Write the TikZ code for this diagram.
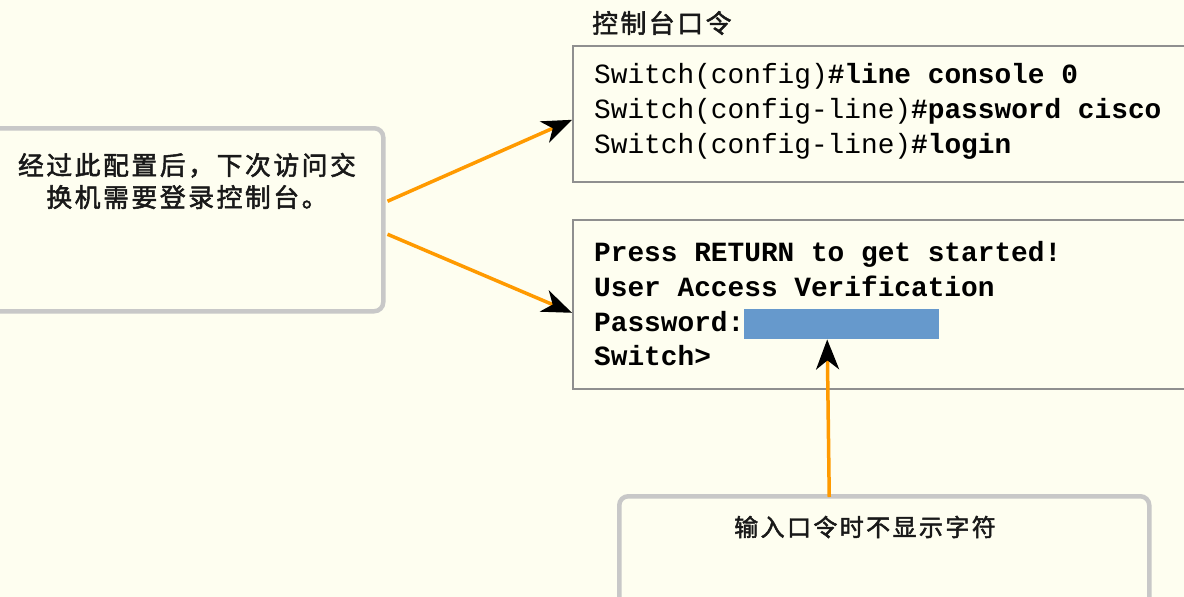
\documentclass[tikz,border=0pt]{standalone}
\usepackage{fontspec}
\setmonofont{Liberation Mono}
\newfontfamily\cjk[LetterSpace=10,FakeBold=2]{Noto Sans CJK SC}
\usetikzlibrary{arrows.meta}

\definecolor{paper}{HTML}{FEFEF0}
\definecolor{frame}{HTML}{C8C8C8}
\definecolor{termframe}{HTML}{8F8F8F}
\definecolor{pointer}{HTML}{FF9A00}
\definecolor{hidden}{HTML}{6699CC}

\tikzset{
  notebox/.style={draw=frame, line width=4.5pt, rounded corners=9pt, fill=paper,
    inner sep=0pt, anchor=north west},
  termbox/.style={draw=termframe, line width=1.6pt, fill=paper, inner sep=0pt,
    anchor=north west},
  codeline/.style={anchor=base west, inner sep=0pt,
    font=\fontsize{27.8}{30}\ttfamily},
  cjktext/.style={inner sep=0pt, font=\fontsize{25.8}{32}\cjk, text=black!90},
  callout/.style={draw=pointer, line width=3.5pt,
    -{Stealth[length=30pt, width=23pt, inset=9pt, color=black]}},
}

\begin{document}
\begin{tikzpicture}[x=1pt, y=-1pt]
  \useasboundingbox (0,0) rectangle (1184,597);
  \fill[paper] (0,0) rectangle (1184,597);

  % explanation on the left (its left edge runs past the page)
  \node[notebox, minimum width=405pt, minimum height=183pt] (note) at (-24,126) {};
  \node[cjktext, align=center] (notetext) at (187,181)
    {经过此配置后，下次访问交\\换机需要登录控制台。};

  % console configuration commands
  \node[cjktext, anchor=west] (title) at (592,23) {控制台口令};
  \node[termbox, minimum width=630pt, minimum height=136pt] (cfg) at (572,45) {};
  \node[codeline] (c1) at (594,83)  {Switch(config)\textbf{\#line console 0}};
  \node[codeline] (c2) at (594,118) {Switch(config-line)\textbf{\#password cisco}};
  \node[codeline] (c3) at (594,153) {Switch(config-line)\textbf{\#login}};

  % login prompt shown afterwards
  \node[termbox, minimum width=630pt, minimum height=169pt] (term) at (572,219) {};
  \node[codeline] (t1) at (594,261) {\textbf{Press RETURN to get started!}};
  \node[codeline] (t2) at (594,296) {\textbf{User Access Verification}};
  \node[codeline] (t3) at (594,331) {\textbf{Password:}};
  \node[codeline] (t4) at (594,365) {\textbf{Switch>}};
  \node[fill=hidden, inner sep=0pt, minimum width=195pt, minimum height=30pt,
    anchor=north west] (mask) at (744,309) {};

  % note below the prompt
  \node[notebox, minimum width=530pt, minimum height=115pt] (hint) at (617,494) {};
  \node[cjktext, font=\fontsize{24}{30}\cjk] (hinttext) at (865,527)
    {输入口令时不显示字符};

  % callout arrows
  \coordinate (s1) at ([yshift=18.5pt]note.east);
  \coordinate (s2) at ([yshift=-14.5pt]note.east);
  \draw[callout] ([xshift=2pt]s1) -- ([yshift=-6pt]cfg.west);
  \draw[callout] ([xshift=2pt]s2) -- ([yshift=-8.5pt]term.west);
  \draw[callout] ([xshift=-55pt,yshift=-3pt]hint.north) -- ([xshift=-14.5pt]mask.south);
\end{tikzpicture}
\end{document}
